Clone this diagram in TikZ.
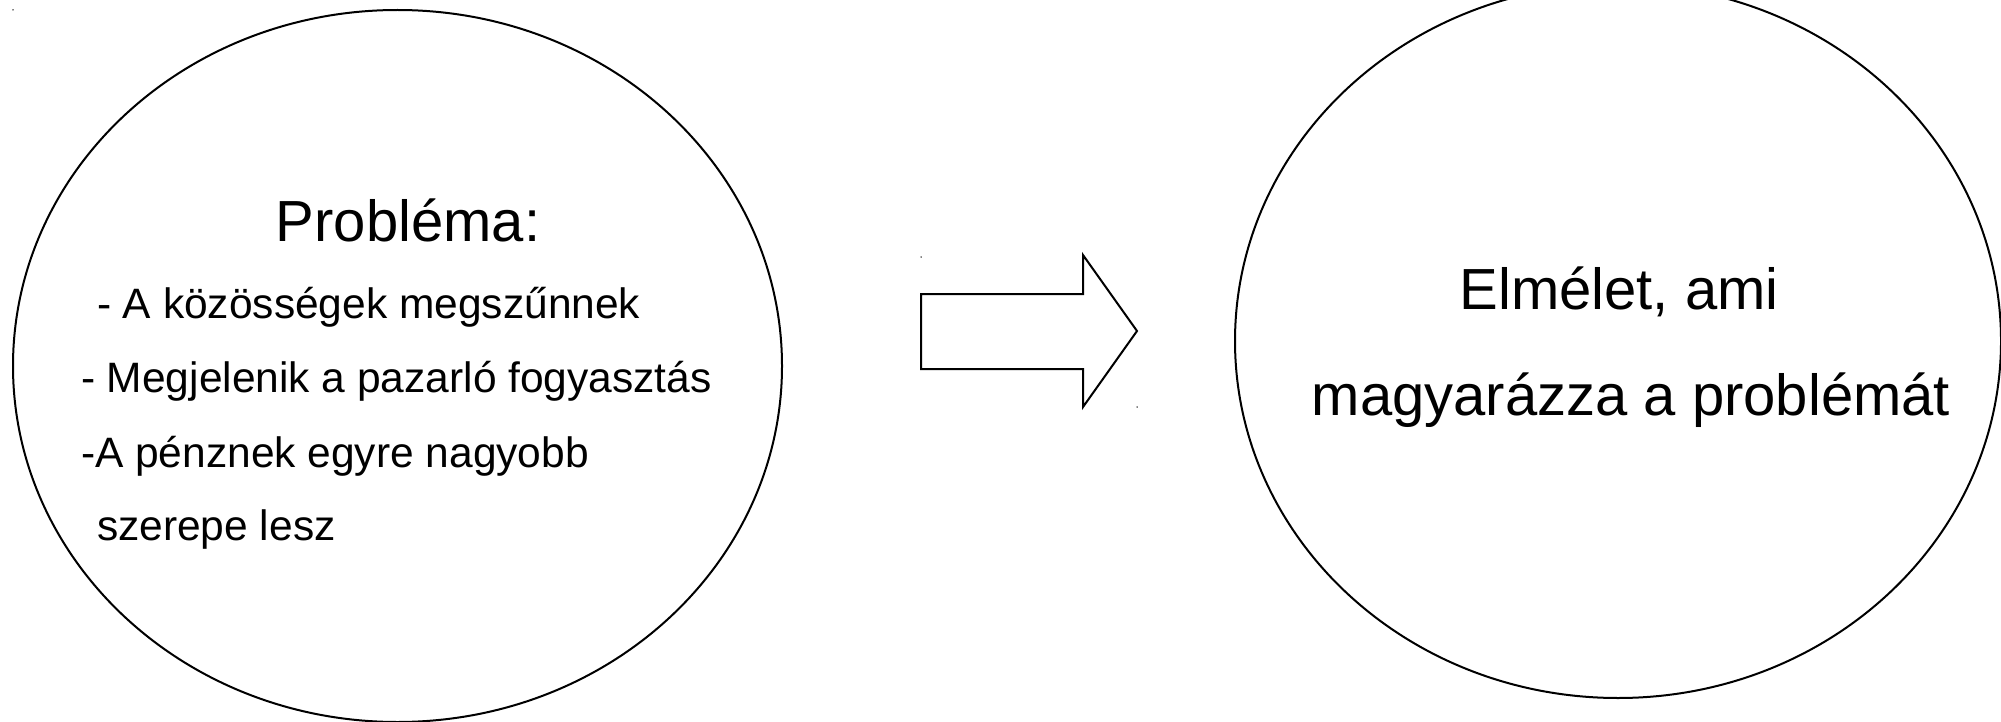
\documentclass[tikz,border=0pt]{standalone}
\usepackage{fontspec}
\setmainfont{Liberation Sans}

\tikzset{
    cim/.style={inner sep=0pt, font=\fontsize{58}{60}\selectfont},
    sor/.style={inner sep=0pt, anchor=west, font=\fontsize{42.5}{44}\selectfont},
    pont/.style={fill=black, inner sep=0pt, minimum size=1.5pt, circle},
}

\begin{document}
\begin{tikzpicture}[x=1pt, y=-1pt, line width=2pt]
            \useasboundingbox (0,0) rectangle (2001,722);

            \draw (397.5,366) ellipse[x radius=384.5, y radius=356];
            \draw (1618,341) ellipse[x radius=383, y radius=357];

            % arrow
            \draw[line join=miter] (921,294)--(1083,294)--(1083,255)--(1137,331)
                --(1083,407)--(1083,369)--(921,369)--cycle;

            \node[pont] (p1) at (13,10) {};
            \node[pont] (p2) at (921,257) {};
            \node[pont] (p3) at (1137,407) {};

            % notation
            \node[cim] (problema) at (408,220) {Probléma:};

            \node[sor] (sor1) at (96,307) {- A közösségek megszűnnek};
            \node[sor] (sor2) at (80,381) {- Megjelenik a pazarló fogyasztás};
            \node[sor] (sor3) at (80,456) {-A pénznek egyre nagyobb};
            \node[sor] (sor4) at (96,530) {szerepe lesz};

            \node[cim] (elmelet) at (1619,292) {Elmélet, ami};
            \node[cim] (magyaraz) at (1631,400) {magyarázza a problémát};
\end{tikzpicture}
\end{document}
